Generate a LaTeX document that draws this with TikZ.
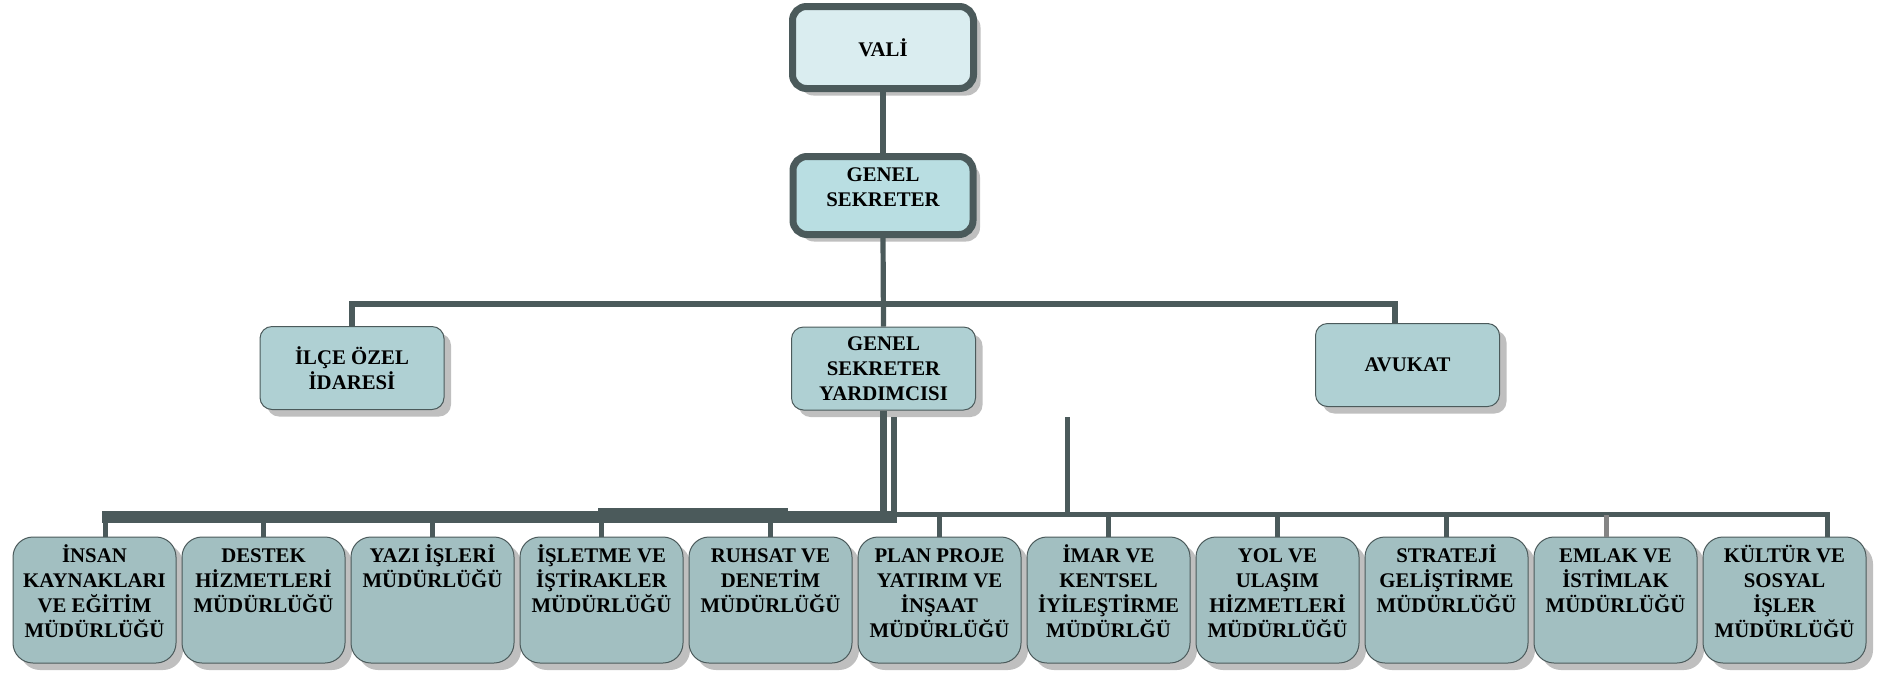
\documentclass[tikz,border=0pt]{standalone}
\usepackage{fontspec}
\setmainfont{Liberation Serif}
\usepackage{tikz}
\usetikzlibrary{shadows}
\definecolor{linea}{HTML}{4B5A5B}
\definecolor{grigio}{HTML}{858585}
\definecolor{fondoVali}{HTML}{DAEDF0}
\definecolor{fondoSegr}{HTML}{B9DEE2}
\definecolor{fondoMedio}{HTML}{AFD0D3}
\definecolor{fondoBasso}{HTML}{A2BFC1}
\definecolor{ombra}{HTML}{BFBFBF}
\newcommand{\testo}[1]{\parbox[t]{80pt}{\centering\rule{0pt}{10pt}#1}}

\begin{document}
\begin{tikzpicture}[x = 0.5pt, y = -0.5pt,
    font = \fontsize{10.4}{12.5}\selectfont\bfseries,
    ombreggiato/.style = {drop shadow = {shadow xshift = 3.5pt, shadow yshift = -3.5pt, fill = ombra, opacity = 1}},
    capo/.style = {ombreggiato, draw = linea, line width = 3.5pt, rounded corners = 7pt, minimum width = 90.5pt, minimum height = 41pt, align = center, inner sep = 0pt},
    ufficio/.style = {ombreggiato, draw = linea, line width = 0.5pt, fill = fondoMedio, rounded corners = 6pt, minimum width = 92pt, minimum height = 41.5pt, align = center, inner sep = 0pt},
    direzione/.style = {ombreggiato, draw = linea, line width = 0.5pt, fill = fondoBasso, rounded corners = 10pt, minimum width = 81.5pt, inner xsep = 0pt, inner ysep = 2.25pt, text height = 10.25pt, text depth = 48.25pt},
    collega/.style = {draw = linea, line width = 2.6pt}]
    % Parametri
    \pgfmathsetmacro{\xuno}{94.5}
    \pgfmathsetmacro{\passo}{169}
    \pgfmathsetmacro{\yb}{600}
    \useasboundingbox (0,0) rectangle (1893,676);
    % Vertice
    \node[capo, fill = fondoVali] (vali) at (883,47.5) {VALİ};
    \node[capo, fill = fondoSegr, minimum width = 90pt, minimum height = 39pt] (gs) at (883,195.5) {GENEL\\SEKRETER\\[-4pt]};
    \node[ufficio] (ilce) at (352,368) {İLÇE ÖZEL\\İDARESİ};
    \node[ufficio] (gsy) at (883.5,368.5) {GENEL\\SEKRETER\\YARDIMCISI};
    \node[ufficio] (avukat) at (1407.5,365) {AVUKAT};
    % Direzioni
    \node[direzione] (d1) at (\xuno,\yb) {\testo{İNSAN\\KAYNAKLARI\\VE EĞİTİM\\MÜDÜRLÜĞÜ}};
    \node[direzione] (d2) at ({\xuno+\passo},\yb) {\testo{DESTEK\\HİZMETLERİ\\MÜDÜRLÜĞÜ}};
    \node[direzione] (d3) at ({\xuno+2*\passo},\yb) {\testo{YAZI İŞLERİ\\MÜDÜRLÜĞÜ}};
    \node[direzione] (d4) at ({\xuno+3*\passo},\yb) {\testo{İŞLETME VE\\İŞTİRAKLER\\MÜDÜRLÜĞÜ}};
    \node[direzione] (d5) at ({\xuno+4*\passo},\yb) {\testo{RUHSAT VE\\DENETİM\\MÜDÜRLÜĞÜ}};
    \node[direzione] (d6) at ({\xuno+5*\passo},\yb) {\testo{PLAN PROJE\\YATIRIM VE\\İNŞAAT\\MÜDÜRLÜĞÜ}};
    \node[direzione] (d7) at ({\xuno+6*\passo},\yb) {\testo{İMAR VE\\KENTSEL\\İYİLEŞTİRME\\MÜDÜRLĞÜ}};
    \node[direzione] (d8) at ({\xuno+7*\passo},\yb) {\testo{YOL VE\\ULAŞIM\\HİZMETLERİ\\MÜDÜRLÜĞÜ}};
    \node[direzione] (d9) at ({\xuno+8*\passo},\yb) {\testo{STRATEJİ\\GELİŞTİRME\\MÜDÜRLÜĞÜ}};
    \node[direzione] (d10) at ({\xuno+9*\passo},\yb) {\testo{EMLAK VE\\İSTİMLAK\\MÜDÜRLÜĞÜ}};
    \node[direzione] (d11) at ({\xuno+10*\passo},\yb) {\testo{KÜLTÜR VE\\SOSYAL\\İŞLER\\MÜDÜRLÜĞÜ}};
    % Collegamenti in alto
    \coordinate (nodoA) at (883,304);
    \draw[collega] (vali.south) -- (gs.north);
    \draw[collega] (gs.south) -- (gsy.north);
    \draw[collega, line width = 3pt] (ilce.north) |- (nodoA) -| ([xshift = -6.25pt]avukat.north);
    % Collegamenti in basso
    \coordinate (nodoB) at (883,517);
    \coordinate (busSx) at (102,517);
    \coordinate (busDx) at (897,517);
    \coordinate (busFine) at (1830,514.5);
    \coordinate (extraA) at (894,417);
    \coordinate (extraB) at (1067,417);
    \coordinate (gradinoA) at (598,510);
    \coordinate (gradinoB) at (788,510);
    \draw[collega, line width = 3.5pt] (gsy.south) -- (gsy.south |- nodoB);
    \draw[collega, line width = 6pt] (busSx) -- (busDx);
    \draw[collega, line width = 2.5pt] (busDx |- busFine) -- (busFine);
    \draw[collega, line width = 2.5pt] (gradinoA) -- (gradinoB);
    \draw[collega, line width = 2.75pt] (extraA) -- (extraA |- nodoB);
    \draw[collega, line width = 2.5pt] (extraB) -- (extraB |- busFine);
    \foreach \i/\dx/\col in {1/5.25/linea, 2/0/linea, 3/0/linea, 4/0/linea, 5/0/linea, 6/0/linea, 7/0/linea, 8/0/linea, 9/0/linea, 10/-4.75/grigio, 11/21.25/linea}
        \draw[collega, line width = 2.5pt, draw = \col] ([xshift = \dx pt]d\i.north) -- ++(0,-22);
\end{tikzpicture}
\end{document}
